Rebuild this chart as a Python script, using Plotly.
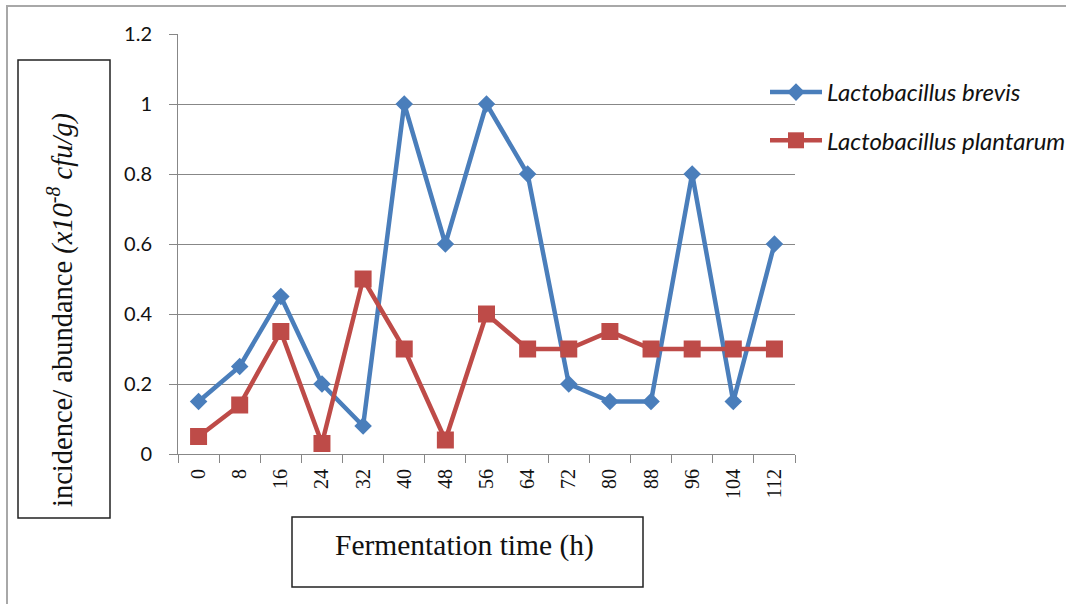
import plotly.graph_objects as go

hours = ["0", "8", "16", "24", "32", "40", "48", "56", "64", "72", "80", "88", "96", "104", "112"]
brevis = [0.15, 0.25, 0.45, 0.20, 0.08, 1.00, 0.60, 1.00, 0.80, 0.20, 0.15, 0.15, 0.80, 0.15, 0.60]
plantarum = [0.05, 0.14, 0.35, 0.03, 0.50, 0.30, 0.04, 0.40, 0.30, 0.30, 0.35, 0.30, 0.30, 0.30, 0.30]
y_ticks = [0, 0.2, 0.4, 0.6, 0.8, 1, 1.2]
y_labels = ["0", "0.2", "0.4", "0.6", "0.8", "1", "1.2"]

BLUE = "#4A7EBB"
RED = "#BE4B48"
GRID = "#878787"

W, H = 1066, 604
L, R, T, B = 178, 795, 34, 454
pw, ph = R - L, B - T

def px(x):
    return (x - L) / pw

def py(y):
    return (B - y) / ph

fig = go.Figure()
fig.add_trace(go.Scatter(
    x=hours, y=brevis, mode="lines+markers", name="<i>Lactobacillus brevis</i>",
    line=dict(color=BLUE, width=4.5),
    marker=dict(symbol="diamond", size=13.5, color=BLUE),
    legendgroup="a",
))
fig.add_trace(go.Scatter(
    x=hours, y=plantarum, mode="lines+markers", name="<i>Lactobacillus plantarum</i>",
    line=dict(color=RED, width=4.5),
    marker=dict(symbol="square", size=17, color=RED),
    legendgroup="b",
))

fig.update_layout(
    width=W, height=H,
    margin=dict(l=L, r=W - R, t=T, b=H - B, autoexpand=False),
    paper_bgcolor="white", plot_bgcolor="white",
    showlegend=True,
    legend=dict(
        x=px(765), y=py(70), xanchor="left", yanchor="top",
        font=dict(family="Lato", size=24, color="#111111"),
        tracegroupgap=14, itemwidth=52, bgcolor="rgba(0,0,0,0)",
    ),
    xaxis=dict(
        type="category", tickson="boundaries", ticks="outside", ticklen=8,
        tickcolor=GRID, showline=True, linecolor=GRID, linewidth=1,
        showgrid=False, tickangle=-90, ticklabelstandoff=6,
        tickfont=dict(family="Liberation Serif", size=20, color="#111111"),
        range=[-0.5, 14.5],
    ),
    yaxis=dict(
        range=[0, 1.2], tickvals=y_ticks, ticktext=y_labels,
        showgrid=True, gridcolor=GRID, gridwidth=1,
        showline=True, linecolor=GRID, linewidth=1,
        ticks="outside", ticklen=8, tickcolor=GRID, ticklabelstandoff=13,
        tickfont=dict(family="Lato", size=20, color="#111111"),
        zeroline=False,
    ),
)

shapes = [
    # outer frame
    dict(type="rect", xref="paper", yref="paper", x0=px(7), x1=px(1075), y0=py(612), y1=py(6),
         line=dict(color="#A8A8A8", width=2)),
    # y title box
    dict(type="rect", xref="paper", yref="paper", x0=px(18), x1=px(110), y0=py(518), y1=py(60),
         line=dict(color="#222222", width=1.5)),
    # x title box
    dict(type="rect", xref="paper", yref="paper", x0=px(292), x1=px(643), y0=py(587), y1=py(517),
         line=dict(color="#222222", width=1.5)),
]
fig.update_layout(shapes=shapes)

fig.add_annotation(
    xref="paper", yref="paper", x=px(60), y=py(310), showarrow=False, textangle=-90,
    xanchor="center", yanchor="middle",
    text="incidence/ abundance <i>(x10<sup>-8</sup> cfu/g)</i>",
    font=dict(family="Liberation Serif", size=28.5, color="#111111"),
)
fig.add_annotation(
    xref="paper", yref="paper", x=px(464), y=py(545), showarrow=False,
    xanchor="center", yanchor="middle",
    text="Fermentation time (h)",
    font=dict(family="Liberation Serif", size=29.5, color="#111111"),
)

fig.write_html("out.html", config={"displayModeBar": False},
               post_script="document.body.style.margin='0';")
